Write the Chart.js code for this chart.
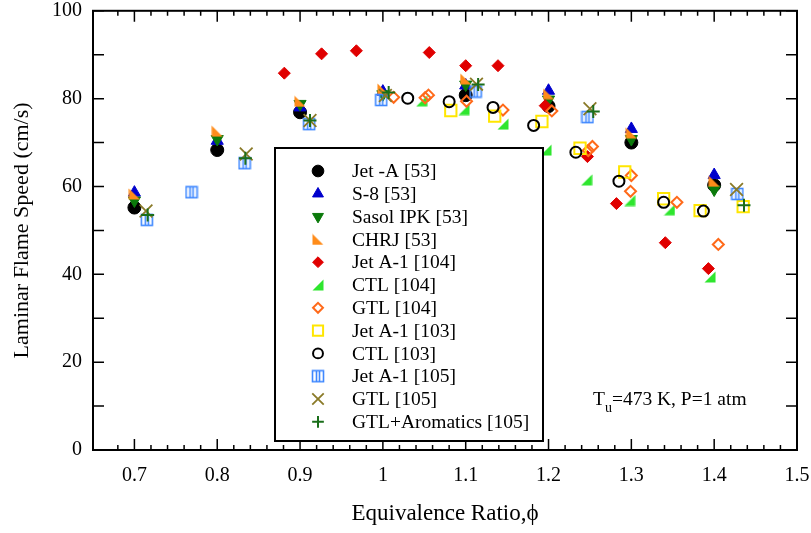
<!DOCTYPE html>
<html>
<head>
<meta charset="utf-8">
<script src="https://cdn.jsdelivr.net/npm/chart.js@4.4.0/dist/chart.umd.min.js"></script>
<style>
    html, body { margin: 0; padding: 0; background: #fff; }
    #wrap { width: 811px; height: 533px; }
</style>
</head>
<body>
<div id="wrap"><canvas id="flameChart" width="811" height="533"></canvas></div>
<script>
// Laminar flame speed vs equivalence ratio (Tu = 473 K, P = 1 atm)

const xMajorTicks = [0.7, 0.8, 0.9, 1.0, 1.1, 1.2, 1.3, 1.4, 1.5];
const yLabelTicks = [0, 20, 40, 60, 80, 100];

// Jet -A [53]
const jetA53Phi = [0.70, 0.80, 0.90, 1.10, 1.20, 1.30, 1.40];
const jetA53Sl  = [55.2, 68.3, 76.9, 80.8, 78.3, 70.0, 60.3];
// S-8 [53]
const s8Phi = [0.70, 0.80, 0.90, 1.00, 1.10, 1.20, 1.30, 1.40];
const s8Sl  = [58.6, 70.4, 78.0, 81.6, 83.0, 81.8, 73.1, 62.6];
// Sasol IPK [53]
const sasolPhi = [0.70, 0.80, 0.90, 1.00, 1.10, 1.20, 1.30, 1.40];
const sasolSl  = [56.8, 70.8, 78.8, 81.0, 83.2, 79.8, 70.8, 59.3];
// CHRJ [53]
const chrjPhi = [0.70, 0.80, 0.90, 1.00, 1.10, 1.20, 1.30, 1.40];
const chrjSl  = [58.3, 72.6, 79.4, 82.2, 84.5, 81.1, 72.2, 61.2];
// Jet A-1 [104]
const jetA1_104Phi = [0.881, 0.926, 0.968, 1.056, 1.100, 1.139, 1.196, 1.247, 1.282, 1.341, 1.393];
const jetA1_104Sl  = [85.8, 90.2, 90.9, 90.5, 87.5, 87.5, 78.4, 66.8, 56.1, 47.2, 41.3];
// CTL [104]
const ctl104Phi = [1.047, 1.098, 1.145, 1.197, 1.246, 1.298, 1.346, 1.395];
const ctl104Sl  = [79.5, 77.5, 74.2, 68.3, 61.5, 56.8, 54.7, 39.4];
// GTL [104]
const gtl104Phi = [1.013, 1.051, 1.055, 1.101, 1.145, 1.204, 1.248, 1.253, 1.300, 1.299, 1.355, 1.405];
const gtl104Sl  = [80.3, 80.2, 80.8, 79.4, 77.4, 77.2, 68.2, 69.1, 62.5, 58.9, 56.4, 46.8];
// Jet A-1 [103]
const jetA1_103Phi = [1.082, 1.135, 1.192, 1.238, 1.292, 1.339, 1.383, 1.435];
const jetA1_103Sl  = [77.3, 76.0, 74.8, 68.7, 63.3, 57.2, 54.5, 55.4];
// CTL [103]
const ctl103Phi = [1.030, 1.080, 1.133, 1.182, 1.233, 1.285, 1.339, 1.387];
const ctl103Sl  = [80.1, 79.3, 78.0, 73.9, 67.8, 61.2, 56.4, 54.4];
// Jet A-1 [105]
const jetA1_105Phi = [0.715, 0.769, 0.833, 0.911, 0.998, 1.112, 1.247, 1.428];
const jetA1_105Sl  = [52.4, 58.7, 65.3, 74.2, 79.7, 81.6, 75.8, 58.3];
// GTL [105]
const gtl105Phi = [0.714, 0.835, 0.912, 1.003, 1.113, 1.250, 1.427];
const gtl105Sl  = [54.4, 67.4, 75.0, 80.7, 83.3, 77.7, 59.3];
// GTL+Aromatics [105]
const gtlAroPhi = [0.716, 0.834, 0.912, 1.007, 1.115, 1.254, 1.436];
const gtlAroSl  = [53.5, 66.4, 75.0, 81.4, 83.2, 77.1, 55.7];

const FONT = "'Liberation Serif', 'Times New Roman', serif";

function zip(xs, ys) {
    return xs.map((x, i) => ({ x: x, y: ys[i] }));
}

function isMajorX(v) {
    return xMajorTicks.some(m => Math.abs(m - v) < 1e-6);
}

// small canvases for the marker shapes Chart.js does not have
function makeMarker(size, draw) {
    const c = document.createElement('canvas');
    c.width = size;
    c.height = size;
    draw(c.getContext('2d'), size);
    return c;
}

const triLowerLeft = makeMarker(12, (g, s) => {
    g.fillStyle = '#ff8c1a';
    g.beginPath();
    g.moveTo(0.5, 0.5); g.lineTo(0.5, s - 0.5); g.lineTo(s - 0.5, s - 0.5);
    g.closePath(); g.fill();
});

const triLowerRight = makeMarker(12, (g, s) => {
    g.fillStyle = '#2ee62e';
    g.beginPath();
    g.moveTo(s - 0.5, 0.5); g.lineTo(s - 0.5, s - 0.5); g.lineTo(0.5, s - 0.5);
    g.closePath(); g.fill();
});

const barredSquare = makeMarker(14, (g, s) => {
    g.strokeStyle = '#3f88ff';
    g.lineWidth = 1.6;
    g.strokeRect(1.5, 1.5, s - 3, s - 3);
    g.beginPath();
    g.moveTo(5.5, 1.5); g.lineTo(5.5, s - 1.5);
    g.moveTo(8.5, 1.5); g.lineTo(8.5, s - 1.5);
    g.stroke();
});

function series(label, xs, ys, style) {
    return Object.assign({
        label: label,
        data: zip(xs, ys),
        showLine: false,
        pointRotation: 0,
        pointBorderWidth: 1
    }, style);
}

const datasets = [
    series('Jet -A [53]', jetA53Phi, jetA53Sl,
        { pointStyle: 'circle', pointRadius: 6.5, pointBackgroundColor: '#000', pointBorderColor: '#000' }),
    series('S-8 [53]', s8Phi, s8Sl,
        { pointStyle: 'triangle', pointRadius: 7, pointBackgroundColor: '#0000cc', pointBorderColor: '#0000cc' }),
    series('Sasol IPK [53]', sasolPhi, sasolSl,
        { pointStyle: 'triangle', pointRotation: 180, pointRadius: 7, pointBackgroundColor: '#0b7a0b', pointBorderColor: '#0b7a0b' }),
    series('CHRJ [53]', chrjPhi, chrjSl,
        { pointStyle: triLowerLeft, pointRadius: 6, pointBackgroundColor: '#ff8c1a', pointBorderColor: '#ff8c1a' }),
    series('Jet A-1 [104]', jetA1_104Phi, jetA1_104Sl,
        { pointStyle: 'rectRot', pointRadius: 6, pointBackgroundColor: '#e00000', pointBorderColor: '#e00000' }),
    series('CTL [104]', ctl104Phi, ctl104Sl,
        { pointStyle: triLowerRight, pointRadius: 6, pointBackgroundColor: '#2ee62e', pointBorderColor: '#2ee62e' }),
    series('GTL [104]', gtl104Phi, gtl104Sl,
        { pointStyle: 'rectRot', pointRadius: 5.5, pointBackgroundColor: 'rgba(0,0,0,0)', pointBorderColor: '#ff6a1a', pointBorderWidth: 2 }),
    series('Jet A-1 [103]', jetA1_103Phi, jetA1_103Sl,
        { pointStyle: 'rect', pointRadius: 8, pointBackgroundColor: 'rgba(0,0,0,0)', pointBorderColor: '#ffe600', pointBorderWidth: 2 }),
    series('CTL [103]', ctl103Phi, ctl103Sl,
        { pointStyle: 'circle', pointRadius: 5.5, pointBackgroundColor: 'rgba(0,0,0,0)', pointBorderColor: '#000', pointBorderWidth: 2 }),
    series('Jet A-1 [105]', jetA1_105Phi, jetA1_105Sl,
        { pointStyle: barredSquare, pointRadius: 6, pointBackgroundColor: '#3f88ff', pointBorderColor: '#3f88ff' }),
    series('GTL [105]', gtl105Phi, gtl105Sl,
        { pointStyle: 'crossRot', pointRadius: 9, pointBackgroundColor: '#8a7a28', pointBorderColor: '#8a7a28', pointBorderWidth: 1.8 }),
    series('GTL+Aromatics [105]', gtlAroPhi, gtlAroSl,
        { pointStyle: 'cross', pointRadius: 6.5, pointBackgroundColor: '#1a6e1a', pointBorderColor: '#1a6e1a', pointBorderWidth: 2 })
];

// later series sit on top
datasets.forEach((ds, i) => { ds.order = datasets.length - i; });

// Frame and inward tick marks on all four sides
const frameTicks = {
    id: 'frameTicks',
    afterDatasetsDraw(chart) {
        const { ctx, chartArea: a, scales: { x, y } } = chart;
        ctx.save();
        ctx.strokeStyle = '#000';
        ctx.lineWidth = 1.5;
        ctx.beginPath();
        x.ticks.forEach(t => {
            if (t.value < x.min + 1e-6) return;
            const px = x.getPixelForValue(t.value);
            const len = isMajorX(t.value) ? 11 : 5;
            ctx.moveTo(px, a.bottom); ctx.lineTo(px, a.bottom - len);
            ctx.moveTo(px, a.top); ctx.lineTo(px, a.top + len);
        });
        y.ticks.forEach(t => {
            const py = y.getPixelForValue(t.value);
            ctx.moveTo(a.left, py); ctx.lineTo(a.left + 11, py);
            ctx.moveTo(a.right, py); ctx.lineTo(a.right - 11, py);
        });
        ctx.stroke();
        ctx.lineWidth = 2;
        ctx.strokeRect(a.left, a.top, a.right - a.left, a.bottom - a.top);
        ctx.restore();
    }
};

// Boxed legend inside the plot plus the conditions note
const boxedLegend = {
    id: 'boxedLegend',
    afterDatasetsDraw(chart) {
        const ctx = chart.ctx;
        const box = { left: 275, top: 148, right: 543, bottom: 441 };
        ctx.save();
        ctx.fillStyle = '#fff';
        ctx.fillRect(box.left, box.top, box.right - box.left, box.bottom - box.top);
        ctx.strokeStyle = '#000';
        ctx.lineWidth = 2;
        ctx.strokeRect(box.left, box.top, box.right - box.left, box.bottom - box.top);

        const rowH = 22.8;
        chart.data.datasets.forEach((ds, i) => {
            const cy = box.top + 23 + i * rowH;
            ctx.save();
            ctx.fillStyle = ds.pointBackgroundColor;
            ctx.strokeStyle = ds.pointBorderColor;
            ctx.lineWidth = ds.pointBorderWidth;
            Chart.helpers.drawPoint(ctx, {
                pointStyle: ds.pointStyle,
                rotation: ds.pointRotation,
                radius: ds.pointRadius * 0.9,
                borderWidth: ds.pointBorderWidth
            }, 318, cy);
            ctx.restore();
            ctx.fillStyle = '#000';
            ctx.font = '19.5px ' + FONT;
            ctx.textBaseline = 'middle';
            ctx.textAlign = 'left';
            ctx.fillText(ds.label, 352, cy + 1);
        });

        // T_u=473 K, P=1 atm
        ctx.fillStyle = '#000';
        ctx.textBaseline = 'alphabetic';
        ctx.font = '19.5px ' + FONT;
        let tx = 593;
        const base = 405;
        ctx.fillText('T', tx, base);
        tx += ctx.measureText('T').width;
        ctx.font = '14px ' + FONT;
        ctx.fillText('u', tx, base + 7);
        tx += ctx.measureText('u').width;
        ctx.font = '19.5px ' + FONT;
        ctx.fillText('=473 K, P=1 atm', tx, base);
        ctx.restore();
    }
};

new Chart(document.getElementById('flameChart'), {
    type: 'scatter',
    data: { datasets: datasets },
    options: {
        responsive: false,
        animation: false,
        devicePixelRatio: 1,
        layout: { padding: { top: 10, right: 14, left: 0, bottom: 0 } },
        plugins: {
            legend: { display: false },
            tooltip: { enabled: false }
        },
        scales: {
            x: {
                type: 'linear',
                min: 0.65,
                max: 1.5,
                afterFit: s => { s.height = 83; s.paddingLeft = 0; s.paddingRight = 0; },
                grid: { display: false, drawTicks: false },
                border: { display: false },
                ticks: {
                    stepSize: 0.02,
                    autoSkip: false,
                    maxRotation: 0,
                    padding: 14,
                    color: '#000',
                    font: { size: 20, family: FONT },
                    callback: v => isMajorX(v) ? String(Math.round(v * 10) / 10) : ''
                },
                title: {
                    display: true,
                    text: 'Equivalence Ratio,ϕ',
                    color: '#000',
                    font: { size: 23, family: FONT },
                    padding: { top: 0, bottom: 5 }
                }
            },
            y: {
                min: 0,
                max: 100,
                afterFit: s => { s.width = 93; s.paddingTop = 0; s.paddingBottom = 0; },
                grid: { display: false, drawTicks: false },
                border: { display: false },
                ticks: {
                    stepSize: 10,
                    autoSkip: false,
                    padding: 11,
                    color: '#000',
                    font: { size: 20, family: FONT },
                    callback: v => yLabelTicks.includes(v) ? String(v) : ''
                },
                title: {
                    display: true,
                    text: 'Laminar Flame Speed (cm/s)',
                    color: '#000',
                    font: { size: 22, family: FONT },
                    padding: { top: 9, bottom: 0 }
                }
            }
        }
    },
    plugins: [frameTicks, boxedLegend]
});
</script>
</body>
</html>
